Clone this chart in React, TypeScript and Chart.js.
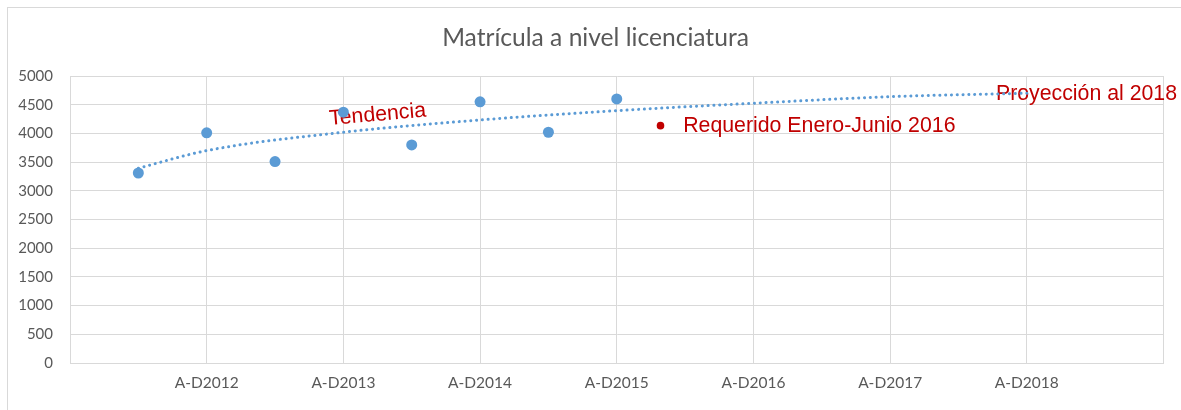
import React, { useEffect, useRef } from "react";
import { Chart, registerables } from "chart.js";

Chart.register(...registerables);

const chartTitle = "Matrícula a nivel licenciatura";
const xTickLabels = ["", "A-D2012", "A-D2013", "A-D2014", "A-D2015", "A-D2016", "A-D2017", "A-D2018", ""];
const periodX = [0.5, 1, 1.5, 2, 2.5, 3, 3.5, 4];
const matricula = [3310, 4010, 3510, 4370, 3800, 4550, 4020, 4600];
const trendX = [0.5, 1, 2, 3, 4, 5, 6, 7];
const trendY = [3394, 3700, 4020, 4234, 4396, 4525, 4640, 4700];
const requeridoX = [4.32];
const requeridoY = [4135];
const noteTexts = ["Tendencia", "Requerido Enero-Junio 2016", "Proyección al 2018"];
const noteX = [1.9, 4.486, 6.774];
const noteY = [4147, 4031, 4583];
const noteAngle = [-5, 0, 0];

const BLUE = "#5B9BD5";
const RED = "#C00000";
const GRID = "#D9D9D9";
const TEXT = "#595959";

const notesPlugin = {
  id: "notes",
  beforeDatasetsDraw(chart: any) {
    const ctx = chart.ctx;
    const xs = chart.scales.x;
    const ys = chart.scales.y;
    ctx.save();
    ctx.fillStyle = RED;
    ctx.font = "21.3px 'Liberation Sans', Arial, sans-serif";
    ctx.textBaseline = "alphabetic";
    ctx.textAlign = "left";
    noteTexts.forEach((t, i) => {
      const px = xs.getPixelForValue(noteX[i]);
      const py = ys.getPixelForValue(noteY[i]);
      ctx.save();
      ctx.translate(px, py);
      ctx.rotate((noteAngle[i] * Math.PI) / 180);
      ctx.fillText(t, 0, 0);
      ctx.restore();
    });
    ctx.restore();
  },
};

const titlePlugin = {
  id: "customTitle",
  afterDraw(chart: any) {
    const ctx = chart.ctx;
    ctx.save();
    ctx.fillStyle = TEXT;
    ctx.font = "24.6px Lato, sans-serif";
    ctx.textAlign = "center";
    ctx.textBaseline = "alphabetic";
    ctx.fillText(chartTitle, 595.5, 46);
    ctx.restore();
  },
};

export default function App() {
  const ref = useRef<HTMLCanvasElement | null>(null);

  useEffect(() => {
    if (!ref.current) return;
    const chart = new Chart(ref.current, {
      type: "scatter",
      data: {
        datasets: [
          {
            label: "Matrícula",
            data: periodX.map((x, i) => ({ x, y: matricula[i] })),
            backgroundColor: BLUE,
            borderColor: BLUE,
            pointRadius: 5.5,
            pointBorderWidth: 0,
            showLine: false,
          },
          {
            label: "Requerido Enero-Junio 2016",
            data: requeridoX.map((x, i) => ({ x, y: requeridoY[i] })),
            backgroundColor: RED,
            borderColor: RED,
            pointRadius: 3.8,
            pointBorderWidth: 0,
            showLine: false,
          },
          {
            label: "Tendencia",
            data: trendX.map((x, i) => ({ x, y: trendY[i] })),
            showLine: true,
            borderColor: BLUE,
            borderWidth: 3,
            borderDash: [0.1, 5.7],
            borderCapStyle: "round",
            cubicInterpolationMode: "monotone",
            pointRadius: 0,
            fill: false,
          } as any,
        ],
      },
      options: {
        responsive: false,
        animation: false,
        devicePixelRatio: 1,
        layout: { padding: { top: 76, right: 17.5, left: 0, bottom: 0 } },
        plugins: {
          legend: { display: false },
          tooltip: { enabled: false },
          title: { display: false },
        },
        scales: {
          x: {
            type: "linear",
            min: 0,
            max: 8,
            afterFit: (s: any) => {
              s.height = 47;
            },
            ticks: {
              stepSize: 1,
              autoSkip: false,
              maxRotation: 0,
              padding: 11,
              color: TEXT,
              font: { family: "Lato, sans-serif", size: 15.5 },
              callback: (v: any) => xTickLabels[v] ?? "",
            },
            grid: { color: GRID, drawTicks: false, lineWidth: 1 },
            border: { color: GRID },
          },
          y: {
            min: 0,
            max: 5000,
            afterFit: (s: any) => {
              s.width = 70;
            },
            ticks: {
              stepSize: 500,
              padding: 17,
              color: TEXT,
              font: { family: "Lato, sans-serif", size: 15 },
              callback: (v: any) => String(v),
            },
            grid: { color: GRID, drawTicks: false, lineWidth: 1 },
            border: { color: GRID },
          },
        },
      },
      plugins: [notesPlugin, titlePlugin],
    });
    return () => chart.destroy();
  }, []);

  return (
    <div style={{ position: "fixed", left: 0, top: 0, width: 1181, height: 410, overflow: "hidden", background: "#fff" }}>
      <div
        style={{
          position: "absolute",
          left: 7,
          top: 7,
          width: 1200,
          height: 420,
          border: "1px solid #D9D9D9",
          boxSizing: "border-box",
        }}
      />
      <canvas ref={ref} width={1181} height={410} style={{ position: "absolute", left: 0, top: 0 }} />
    </div>
  );
}
